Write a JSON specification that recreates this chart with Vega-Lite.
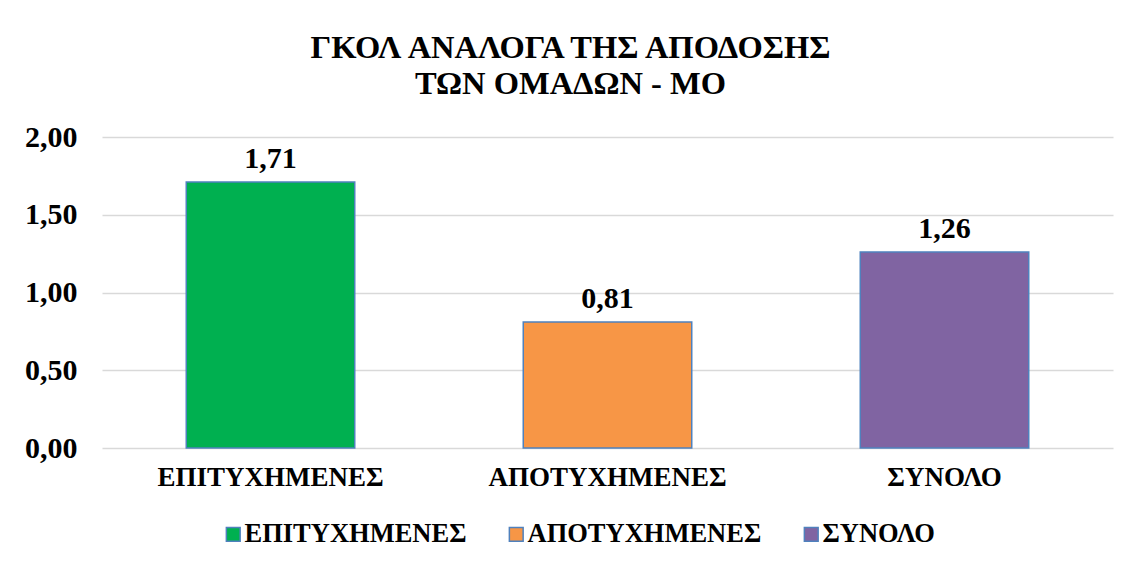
{
  "$schema": "https://vega.github.io/schema/vega-lite/v6.json",
  "width": 1011,
  "height": 311,
  "autosize": {"type": "none"},
  "padding": {"left": 102, "top": 137, "right": 17, "bottom": 120},
  "background": "white",
  "title": {
    "text": ["ΓΚΟΛ ΑΝΑΛΟΓΑ ΤΗΣ ΑΠΟΔΟΣΗΣ", "ΤΩΝ ΟΜΑΔΩΝ - ΜΟ"],
    "font": "Times New Roman, Liberation Serif, serif",
    "fontSize": 32.5,
    "fontWeight": "bold",
    "color": "#000000",
    "anchor": "middle",
    "dx": -37,
    "offset": 22,
    "lineHeight": 36
  },
  "data": {
    "values": [
      {"category": "ΕΠΙΤΥΧΗΜΕΝΕΣ", "value": 1.71},
      {"category": "ΑΠΟΤΥΧΗΜΕΝΕΣ", "value": 0.81},
      {"category": "ΣΥΝΟΛΟ", "value": 1.26}
    ]
  },
  "encoding": {
    "x": {
      "field": "category",
      "type": "nominal",
      "sort": null,
      "scale": {"paddingInner": 0.5, "paddingOuter": 0.25},
      "axis": {
        "title": null,
        "labelAngle": 0,
        "labelFont": "Times New Roman, Liberation Serif, serif",
        "labelFontSize": 27,
        "labelFontWeight": "bold",
        "labelColor": "#000000",
        "labelPadding": 16,
        "labelLimit": 500,
        "ticks": false,
        "domain": false
      }
    },
    "y": {
      "field": "value",
      "type": "quantitative",
      "scale": {"domain": [0, 2]},
      "axis": {
        "title": null,
        "values": [0, 0.5, 1, 1.5, 2],
        "format": ".2f",
        "labelFont": "Times New Roman, Liberation Serif, serif",
        "labelFontSize": 30,
        "labelFontWeight": "bold",
        "labelColor": "#000000",
        "labelPadding": 25,
        "ticks": false,
        "domain": false,
        "grid": true,
        "gridColor": "#d9d9d9",
        "gridWidth": 1.5
      }
    }
  },
  "layer": [
    {
      "mark": {"type": "bar", "stroke": "#4f81bd", "strokeWidth": 1.5},
      "encoding": {
        "color": {
          "field": "category",
          "type": "nominal",
          "sort": null,
          "scale": {
            "domain": ["ΕΠΙΤΥΧΗΜΕΝΕΣ", "ΑΠΟΤΥΧΗΜΕΝΕΣ", "ΣΥΝΟΛΟ"],
            "range": ["#00b050", "#f79646", "#8064a2"]
          },
          "legend": {
            "title": null,
            "orient": "none",
            "direction": "horizontal",
            "legendX": 118,
            "legendY": 384,
            "symbolType": "square",
            "symbolSize": 190,
            "symbolStrokeColor": "#4f81bd",
            "symbolStrokeWidth": 1.5,
            "labelFont": "Times New Roman, Liberation Serif, serif",
            "labelFontSize": 26.5,
            "labelFontWeight": "bold",
            "labelColor": "#000000",
            "labelOffset": -2,
            "columnPadding": 36,
            "labelLimit": 500
          }
        }
      }
    },
    {
      "mark": {
        "type": "text",
        "font": "Times New Roman, Liberation Serif, serif",
        "fontSize": 30,
        "fontWeight": "bold",
        "color": "#000000",
        "baseline": "alphabetic",
        "dy": -14
      },
      "encoding": {
        "text": {"field": "value", "type": "quantitative", "format": ".2f"}
      }
    }
  ],
  "config": {
    "view": {"stroke": null},
    "locale": {
      "number": {"decimal": ",", "thousands": ".", "grouping": [3], "currency": ["", " €"]}
    }
  }
}
